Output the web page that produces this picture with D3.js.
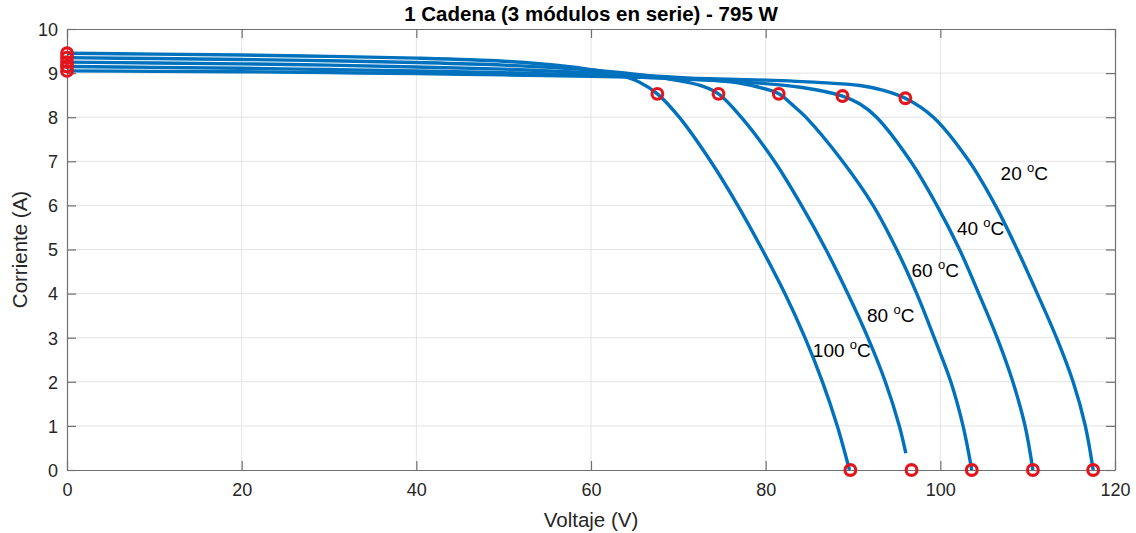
<!DOCTYPE html>
<html>
<head>
<meta charset="utf-8">
<script src="https://cdn.jsdelivr.net/npm/d3@7"></script>
<style>
  html, body { margin: 0; padding: 0; background: #ffffff; }
  svg { display: block; font-family: "Liberation Sans", Arial, sans-serif; }
</style>
</head>
<body>
<svg id="chart" width="1136" height="533"></svg>
<script>
// ---------------- data ----------------
const titleText = "1 Cadena (3 módulos en serie) - 795 W";
const xLabel = "Voltaje (V)";
const yLabel = "Corriente (A)";
const xTicks = [0, 20, 40, 60, 80, 100, 120];
const yTicks = [0, 1, 2, 3, 4, 5, 6, 7, 8, 9, 10];

const temps = [20, 40, 60, 80, 100];

// I-V curves [V, I]
const curve20 = [[0,9.05],[10,9.04],[20,9.03],[30,9.01],[40,8.99],[50,8.96],[60,8.93],[70,8.89],[80,8.84],[86,8.79],[90.8,8.72],[93.5,8.61],[96,8.43],[99.2,8.0],[103.3,7.0],[106.3,6.0],[108.8,5.0],[111.1,4.0],[113.3,3.0],[115.2,2.0],[116.6,1.0],[117.5,0]];
const curve40 = [[0,9.15],[10,9.13],[20,9.11],[30,9.08],[40,9.05],[50,9.01],[60,8.95],[70,8.87],[78,8.79],[84,8.68],[88.8,8.48],[90.8,8.3],[92.7,8.0],[96.6,7.0],[99.6,6.0],[102.2,5.0],[104.4,4.0],[106.5,3.0],[108.3,2.0],[109.7,1.0],[110.6,0]];
const curve60 = [[0,9.25],[10,9.23],[20,9.21],[30,9.18],[40,9.14],[50,9.09],[60,9.01],[70,8.9],[76,8.8],[79,8.69],[81.5,8.53],[83.0,8.29],[84.6,8.0],[88.8,7.0],[92.3,6.0],[95.0,5.0],[97.3,4.0],[99.3,3.0],[101.2,2.0],[102.6,1.0],[103.6,0]];
const curve80 = [[0,9.35],[10,9.33],[20,9.31],[30,9.28],[40,9.24],[50,9.18],[60,9.07],[66,8.95],[70,8.83],[72.5,8.72],[74.6,8.53],[77.2,8.0],[81.0,7.0],[84.1,6.0],[86.9,5.0],[89.4,4.0],[91.7,3.0],[93.7,2.0],[95.3,1.0],[96.05,0.38]];
const curve100 = [[0,9.45],[10,9.43],[20,9.41],[30,9.38],[40,9.34],[50,9.27],[56,9.18],[60,9.08],[63,8.97],[65.5,8.8],[67.6,8.53],[70.1,8.0],[73.7,7.0],[76.8,6.0],[79.6,5.0],[82.2,4.0],[84.5,3.0],[86.5,2.0],[88.2,1.0],[89.6,0]];
const curves = [curve20, curve40, curve60, curve80, curve100];

// marker points (short-circuit, max power, open-circuit)
const iscValues = [9.05, 9.15, 9.25, 9.35, 9.45];
const mppV = [96.0, 88.8, 81.5, 74.6, 67.6];
const mppI = [8.43, 8.48, 8.53, 8.53, 8.53];
const vocValues = [117.5, 110.6, 103.6, 96.7, 89.7];

// curve labels (data coordinates of text start)
const labelV = [106.9, 101.9, 96.7, 91.6, 85.4];
const labelI = [6.58, 5.33, 4.38, 3.36, 2.56];

// ---------------- drawing ----------------
const svg = d3.select("#chart");
const mLeft = 67, mRight = 1115, mTop = 29, mBottom = 470;

const x = d3.scaleLinear().domain([0, 120]).range([mLeft, mRight]);
const y = d3.scaleLinear().domain([0, 10]).range([mBottom, mTop]);

const gridColor = "#e3e3e3";
const axisColor = "#707070";
const textColor = "#262626";

// grid
svg.append("g").selectAll("line").data(xTicks.slice(1, -1)).join("line")
  .attr("x1", d => x(d)).attr("x2", d => x(d)).attr("y1", mTop).attr("y2", mBottom)
  .attr("stroke", gridColor).attr("stroke-width", 1);
svg.append("g").selectAll("line").data(yTicks.slice(1, -1)).join("line")
  .attr("y1", d => y(d)).attr("y2", d => y(d)).attr("x1", mLeft).attr("x2", mRight)
  .attr("stroke", gridColor).attr("stroke-width", 1);

// axes (ticks inward, box)
const tickFont = 18;
const gx = svg.append("g").attr("transform", `translate(0,${mBottom})`)
  .call(d3.axisBottom(x).tickValues(xTicks).tickSizeInner(-9).tickSizeOuter(0).tickPadding(18));
const gy = svg.append("g").attr("transform", `translate(${mLeft},0)`)
  .call(d3.axisLeft(y).tickValues(yTicks).tickSizeInner(-9).tickSizeOuter(0).tickPadding(18));
const gxt = svg.append("g").attr("transform", `translate(0,${mTop})`)
  .call(d3.axisTop(x).tickValues(xTicks).tickSizeInner(-9).tickSizeOuter(0).tickFormat(""));
const gyr = svg.append("g").attr("transform", `translate(${mRight},0)`)
  .call(d3.axisRight(y).tickValues(yTicks).tickSizeInner(-9).tickSizeOuter(0).tickFormat(""));
[gx, gy, gxt, gyr].forEach(g => {
  g.select(".domain").attr("stroke", axisColor).attr("stroke-width", 1.2);
  g.selectAll(".tick line").attr("stroke", axisColor).attr("stroke-width", 1.2);
  g.selectAll(".tick text").attr("fill", textColor).attr("font-size", tickFont)
    .attr("font-family", "Liberation Sans, Arial, sans-serif");
});
gx.selectAll(".tick text").attr("dy", "0.71em").attr("y", 13);
gy.selectAll(".tick text").attr("x", -9).attr("dy", "0.35em");

// curves
const line = d3.line().x(d => x(d[0])).y(d => y(d[1])).curve(d3.curveCatmullRom.alpha(0.5));
svg.append("g").selectAll("path").data(curves).join("path")
  .attr("d", line).attr("fill", "none").attr("stroke", "#0072BD")
  .attr("stroke-width", 3.4).attr("stroke-linejoin", "round").attr("stroke-linecap", "butt");

// markers
const red = "#e3141c";
const markerData = [];
temps.forEach((t, i) => {
  markerData.push([0, iscValues[i]]);
  markerData.push([mppV[i], mppI[i]]);
  markerData.push([vocValues[i], 0]);
});
svg.append("g").selectAll("circle").data(markerData).join("circle")
  .attr("cx", d => x(d[0])).attr("cy", d => y(d[1])).attr("r", 5.4)
  .attr("fill", "none").attr("stroke", red).attr("stroke-width", 3.1);

// curve labels
const lbl = svg.append("g").selectAll("text").data(temps).join("text")
  .attr("x", (d, i) => x(labelV[i])).attr("y", (d, i) => y(labelI[i]))
  .attr("font-size", 19).attr("fill", "#000");
lbl.append("tspan").text(d => d + " ");
lbl.append("tspan").text("o").attr("font-size", 13).attr("dy", -8);
lbl.append("tspan").text("C").attr("dy", 8);

// title & axis labels
svg.append("text").attr("x", (mLeft + mRight) / 2).attr("y", 21).attr("text-anchor", "middle")
  .attr("font-size", 20.5).attr("font-weight", "bold").attr("fill", "#000").text(titleText);
svg.append("text").attr("x", (mLeft + mRight) / 2).attr("y", 527).attr("text-anchor", "middle")
  .attr("font-size", 20.5).attr("fill", textColor).text(xLabel);
svg.append("text").attr("transform", `translate(27,${(mTop + mBottom) / 2}) rotate(-90)`)
  .attr("text-anchor", "middle").attr("font-size", 20.5).attr("fill", textColor).text(yLabel);
</script>
</body>
</html>
